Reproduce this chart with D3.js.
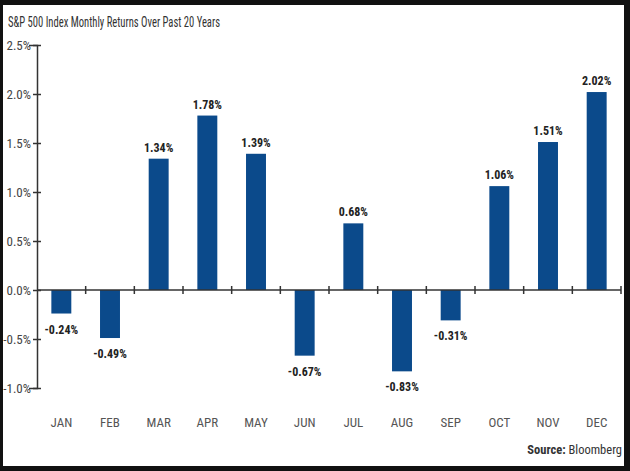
<!DOCTYPE html>
<html>
<head>
<meta charset="utf-8">
<script src="https://cdn.jsdelivr.net/npm/d3@7"></script>
<style>
  body { margin: 0; background: #111; }
  svg { display: block; }
  text { font-family: "Roboto Condensed", "Liberation Sans Narrow", sans-serif; }
</style>
</head>
<body>
<svg id="chart" width="630" height="471"></svg>
<script>
// chart data
var months = ['JAN', 'FEB', 'MAR', 'APR', 'MAY', 'JUN', 'JUL', 'AUG', 'SEP', 'OCT', 'NOV', 'DEC'];
var returns = [-0.24, -0.49, 1.34, 1.78, 1.39, -0.67, 0.68, -0.83, -0.31, 1.06, 1.51, 2.02];
var yTicks = [2.5, 2.0, 1.5, 1.0, 0.5, 0.0, -0.5, -1.0];

var svg = d3.select('#chart');
var font = '"Roboto Condensed", "Liberation Sans Narrow", sans-serif';

// white panel inside the dark frame
svg.append('rect')
  .attr('x', 3).attr('y', 5)
  .attr('width', 621).attr('height', 461)
  .attr('fill', '#fff');

svg.append('text')
  .attr('x', 8).attr('y', 27)
  .attr('font-size', 15)
  .attr('fill', '#333')
  .attr('textLength', 212)
  .attr('lengthAdjust', 'spacingAndGlyphs')
  .text('S&P 500 Index Monthly Returns Over Past 20 Years');

var x = d3.scaleBand()
  .domain(months)
  .range([37, 621])
  .paddingInner(0.59)
  .paddingOuter(0.295);

var y = d3.scaleLinear()
  .domain([-1.0, 2.5])
  .range([388, 45]);

// bars
svg.selectAll('rect.bar')
  .data(returns)
  .enter().append('rect')
  .attr('class', 'bar')
  .attr('x', function(d, i) { return x(months[i]); })
  .attr('y', function(d) { return y(Math.max(0, d)); })
  .attr('width', x.bandwidth())
  .attr('height', function(d) { return Math.abs(y(d) - y(0)); })
  .attr('fill', '#0b4a8b');

// value labels
svg.selectAll('text.val')
  .data(returns)
  .enter().append('text')
  .attr('class', 'val')
  .attr('x', function(d, i) { return x(months[i]) + x.bandwidth() / 2; })
  .attr('y', function(d) { return d >= 0 ? y(d) - 7 : y(d) + 20; })
  .attr('text-anchor', 'middle')
  .attr('font-size', 12)
  .attr('font-weight', 'bold')
  .attr('fill', '#222')
  .text(function(d) { return d.toFixed(2) + '%'; });

// y axis
var yAxis = d3.axisLeft(y)
  .tickValues(yTicks)
  .tickSize(8)
  .tickFormat(function(d) { return d.toFixed(1) + '%'; });

var gy = svg.append('g')
  .attr('transform', 'translate(37,0)')
  .call(yAxis);
gy.select('.domain').attr('stroke', '#333').attr('stroke-width', 1.5);
gy.selectAll('.tick line').attr('x1', -4).attr('x2', 4).attr('stroke', '#333').attr('stroke-width', 1.5);
gy.selectAll('.tick text')
  .attr('x', -6)
  .attr('font-size', 13)
  .attr('fill', '#444')
  .style('font-family', font);

// x axis at zero, ticks at band edges
var edges = months.map(function(m) { return x(m) - x.step() * x.paddingInner() / 2; }).slice(1);
edges.push(x.range()[1]);
var gx = svg.append('g').attr('transform', 'translate(0,' + y(0) + ')');
gx.append('line')
  .attr('x1', 37).attr('x2', 621)
  .attr('stroke', '#333').attr('stroke-width', 1.5);
gx.selectAll('line.tk')
  .data(edges)
  .enter().append('line')
  .attr('class', 'tk')
  .attr('x1', function(d) { return d; }).attr('x2', function(d) { return d; })
  .attr('y1', -4).attr('y2', 4)
  .attr('stroke', '#333').attr('stroke-width', 1.5);

// month labels along the bottom
var xAxis = d3.axisBottom(x).tickSize(0);
var gm = svg.append('g')
  .attr('transform', 'translate(0,415)')
  .call(xAxis);
gm.select('.domain').remove();
gm.selectAll('.tick text')
  .attr('font-size', 13)
  .attr('fill', '#555')
  .style('font-family', font);

// source note
var src = svg.append('text')
  .attr('x', 622).attr('y', 454)
  .attr('text-anchor', 'end')
  .attr('font-size', 12.5)
  .attr('fill', '#333');
src.append('tspan').attr('font-weight', 'bold').text('Source: ');
src.append('tspan').text('Bloomberg');
</script>
</body>
</html>
